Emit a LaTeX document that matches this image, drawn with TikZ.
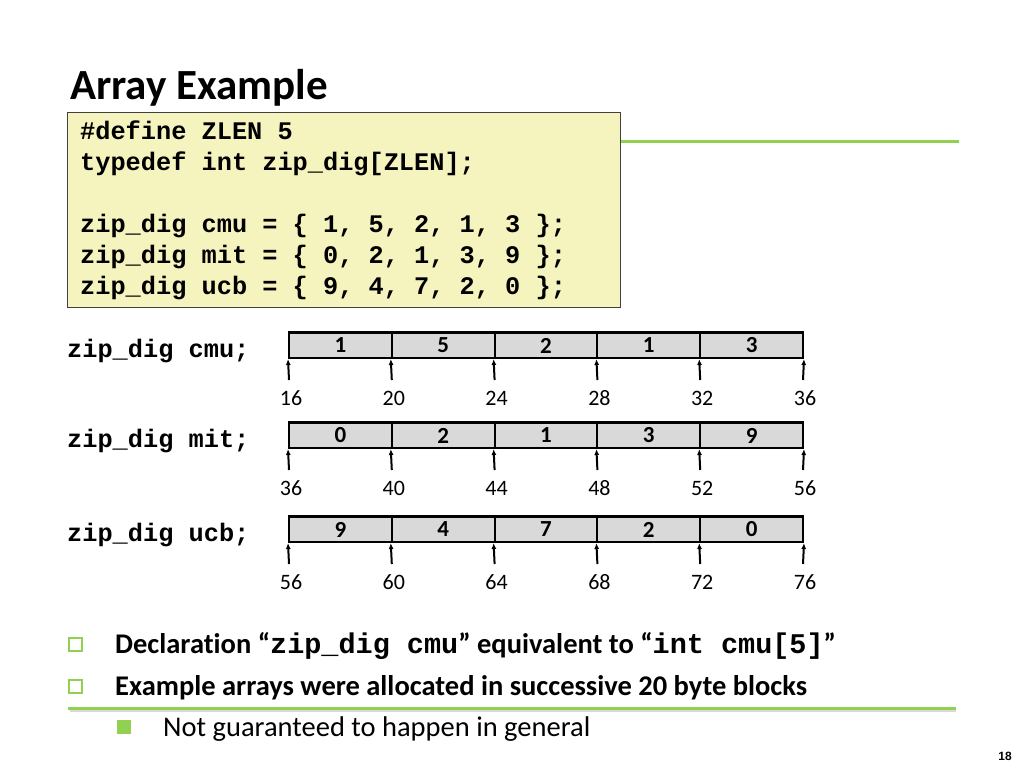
\documentclass[tikz,border=0pt]{standalone}
\usepackage{fontspec}
\setmainfont{Carlito}[Ligatures=NoCommon]
\setmonofont{Liberation Mono}
\newfontfamily\pgnumfont{Liberation Sans}
\usetikzlibrary{arrows.meta}
\definecolor{slgreen}{RGB}{146,208,80}
\definecolor{codebg}{RGB}{246,244,190}
\definecolor{cellgray}{RGB}{217,217,217}
\tikzset{
  codeline/.style={anchor=base west, inner sep=0pt, font=\fontsize{25.3}{28}\selectfont\ttfamily\bfseries},
  cellbox/.style={draw=black, line width=2pt, fill=cellgray, minimum width=102.8pt, minimum height=25pt, inner sep=0pt, font=\fontsize{23}{26}\selectfont\bfseries},
  addr/.style={anchor=base, inner sep=0pt, font=\fontsize{22}{26}\selectfont},
  ptr/.style={line width=2pt, -{Latex[length=6pt,width=5pt]}},
  bullettext/.style={anchor=base west, inner sep=0pt, font=\fontsize{28.5}{32}\selectfont\bfseries},
  greenrule/.style={draw=slgreen, line width=3pt},
}
\begin{document}
\begin{tikzpicture}[x=1pt,y=-1pt]
\useasboundingbox[fill=white] (0,0) rectangle (1024,768);
% title
\node[anchor=base west, inner sep=0pt, font=\fontsize{43}{48}\selectfont\bfseries] (title) at (70,99) {Array Example};
% green rules
\draw[greenrule] (620,141) -- (959,141);
\draw[draw=black!15, line width=2pt] (70,711) -- (956,711);
\draw[greenrule] (68,708) -- (956,708);
% code box
\draw[draw=black!75, line width=1pt, fill=codebg] (67,112) rectangle (620,307);
\node[codeline] (c1) at (80,139) {\#define ZLEN 5};
\node[codeline] (c2) at (80,170) {typedef int zip\_dig[ZLEN];};
\node[codeline] (c3) at (80,232) {zip\_dig cmu = \{ 1, 5, 2, 1, 3 \};};
\node[codeline] (c4) at (80,263) {zip\_dig mit = \{ 0, 2, 1, 3, 9 \};};
\node[codeline] (c5) at (80,294) {zip\_dig ucb = \{ 9, 4, 7, 2, 0 \};};
% arrays
\foreach \nm/\yt/\vals/\addrs [count=\r] in {
  cmu/333/{1,5,2,1,3}/{16,20,24,28,32,36},
  mit/423/{0,2,1,3,9}/{36,40,44,48,52,56},
  ucb/517/{9,4,7,2,0}/{56,60,64,68,72,76}}{
  \node[codeline] (lab\r) at (67,\yt+24) {zip\_dig \nm;};
  \foreach \v [count=\i] in \vals {
    \node[cellbox] (cell\r-\i) at ({289+102.8*(\i-0.5)},\yt+12.5) {\v};
  }
  \draw[line width=3pt] (cell\r-1.north west) -- (cell\r-5.north east);
  \foreach \a [count=\j] in \addrs {
    \pgfmathsetmacro{\xx}{289+102.8*(\j-1)}
    \coordinate (tail\r-\j) at (\xx,\yt+47);
    \node[addr] (addr\r-\j) at (\xx+2,\yt+72) {\a};
  }
  \foreach \j in {1,...,5} {
    \draw[ptr] (tail\r-\j) -- (cell\r-\j.south west);
  }
  \draw[ptr] (tail\r-6) -- (cell\r-5.south east);
}
% bullets
\node[draw=slgreen, line width=2pt, minimum size=13pt, inner sep=0pt] (b1) at (75,644) {};
\node[draw=slgreen, line width=2pt, minimum size=13pt, inner sep=0pt] (b2) at (75,686) {};
\node[fill=slgreen, minimum size=14pt, inner sep=0pt] (b3) at (124,727) {};
\node[bullettext] (t1) at (115,653) {Declaration “{\ttfamily\bfseries zip\_dig cmu}” equivalent to “{\ttfamily\bfseries int cmu[5]}”};
\node[bullettext] (t2) at (115,695) {Example arrays were allocated in successive 20 byte blocks};
\node[anchor=base west, inner sep=0pt, font=\fontsize{28.5}{32}\selectfont] (t3) at (163,736) {Not guaranteed to happen in general};
% page number
\node[anchor=base, inner sep=0pt, font=\fontsize{12}{14}\selectfont\pgnumfont\bfseries] (pg) at (1005,760) {18};
\end{tikzpicture}
\end{document}
